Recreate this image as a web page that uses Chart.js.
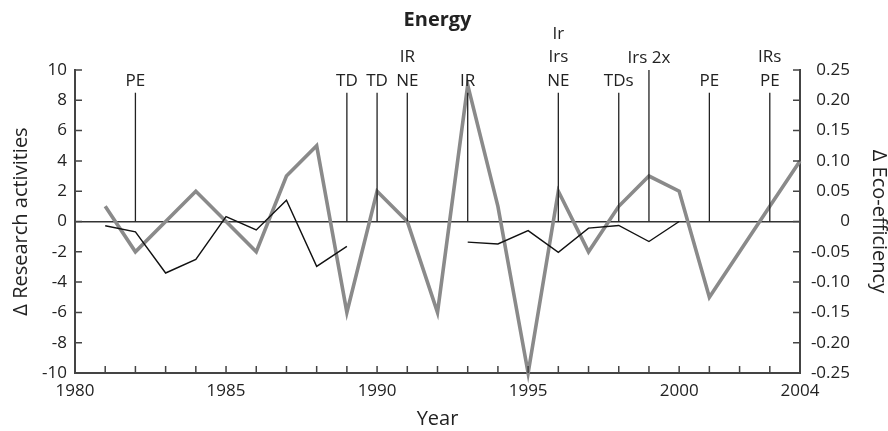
<!DOCTYPE html>
<html><head><meta charset="utf-8">
<script src="https://cdn.jsdelivr.net/npm/chart.js@4.4.1/dist/chart.umd.min.js"></script>
<style>html,body{margin:0;padding:0;background:#fff;}#wrap{width:888px;height:431px;}</style>
</head><body><div id="wrap"><canvas id="c" width="888" height="431"></canvas></div>
<script>
const years = [1981,1982,1983,1984,1985,1986,1987,1988,1989,1990,1991,1992,1993,1994,1995,1996,1997,1998,1999,2000,2001,2002,2003,2004];
const research = [1,-2,0,2,0,-2,3,5,-6,2,0,-6,9,1,-10,2,-2,1,3,2,-5,-2,1,4];
const ecoEfficiency = [-0.007,-0.017,-0.085,-0.0625,0.008,-0.014,0.035,-0.074,-0.041,null,null,null,-0.034,-0.037,-0.015,-0.051,-0.011,-0.0065,-0.033,0,null,null,null,null];
const eventYears = [1982,1989,1990,1991,1993,1996,1998,1999,2001,2003];
const eventLabels = [["PE"],["TD"],["TD"],["IR","NE"],["IR"],["Ir","Irs","NE"],["TDs"],["Irs 2x"],["PE"],["IRs","PE"]];
const eventTops = [8.5,8.5,8.5,8.5,8.5,8.5,8.5,10,8.5,8.5];
const xTicks = [1980,1981,1982,1983,1984,1985,1986,1987,1988,1989,1990,1991,1992,1993,1994,1995,1996,1997,1998,1999,2000,2001,2002,2003,2004];
const xTickLabels = [1980,1985,1990,1995,2000,2004];
const leftTicks = [-10,-8,-6,-4,-2,0,2,4,6,8,10];
const rightTicks = [-0.25,-0.2,-0.15,-0.1,-0.05,0,0.05,0.1,0.15,0.2,0.25];
const rightTickLabels = ["-0.25","-0.20","-0.15","-0.10","-0.05","0","0.05","0.10","0.15","0.20","0.25"];

const FONT = "'Open Sans', 'Noto Sans', sans-serif";
const TXT = '#222';
const AXIS = '#444';
const TICKFONT = 17;

const datasets = [];
eventYears.forEach((yr, i) => {
  datasets.push({
    data: [{x: yr, y: 0}, {x: yr, y: eventTops[i]}],
    borderColor: '#222', borderWidth: 1.3, pointRadius: 0, yAxisID: 'y', clip: false
  });
});
datasets.push({
  data: years.map((yr, i) => ({x: yr, y: ecoEfficiency[i]})),
  borderColor: '#111', borderWidth: 1.4, pointRadius: 0, yAxisID: 'y2', spanGaps: false, tension: 0
});
datasets.push({
  data: years.map((yr, i) => ({x: yr, y: research[i]})),
  borderColor: '#8a8a8a', borderWidth: 3.6, pointRadius: 0, yAxisID: 'y', tension: 0,
  borderJoinStyle: 'miter', clip: false
});

const deco = {
  id: 'deco',
  afterDraw(chart) {
    const ctx = chart.ctx, x = chart.scales.x, y = chart.scales.y, y2 = chart.scales.y2;
    const ca = chart.chartArea;
    ctx.save();
    ctx.strokeStyle = AXIS; ctx.lineWidth = 1.5;
    const TL = 7;
    ctx.beginPath();
    x.ticks.forEach(t => { const p = x.getPixelForValue(t.value); ctx.moveTo(p, ca.bottom); ctx.lineTo(p, ca.bottom - TL); });
    y.ticks.forEach(t => { const p = y.getPixelForValue(t.value); ctx.moveTo(ca.left, p); ctx.lineTo(ca.left + TL, p); });
    y2.ticks.forEach(t => { const p = y2.getPixelForValue(t.value); ctx.moveTo(ca.right, p); ctx.lineTo(ca.right - TL, p); });
    ctx.stroke();
    ctx.fillStyle = TXT;
    ctx.font = TICKFONT + "px " + FONT;
    ctx.textAlign = 'right'; ctx.textBaseline = 'middle';
    y2.ticks.forEach((t, i) => { ctx.fillText(rightTickLabels[i], ca.right + 50, y2.getPixelForValue(t.value)); });
    ctx.textAlign = 'center';
    ctx.font = "bold 20px " + FONT;
    ctx.fillText('Energy', (ca.left + ca.right) / 2, 20);
    ctx.font = "17px " + FONT;
    eventYears.forEach((yr, i) => {
      const px = x.getPixelForValue(yr);
      const top = y.getPixelForValue(eventTops[i]);
      const lines = eventLabels[i];
      lines.forEach((s, j) => {
        const cy = top - 12 - (lines.length - 1 - j) * 23.5;
        ctx.fillText(s, px, cy);
      });
    });
    ctx.restore();
  }
};

new Chart(document.getElementById('c'), {
  type: 'line',
  data: { datasets },
  options: {
    responsive: false, devicePixelRatio: 1, animation: false,
    layout: { padding: { top: 70, left: 0, right: 0, bottom: 0 } },
    plugins: { legend: { display: false }, tooltip: { enabled: false }, title: { display: false } },
    scales: {
      x: {
        type: 'linear', min: 1980, max: 2004,
        afterBuildTicks: s => { s.ticks = xTicks.map(v => ({value: v})); },
        afterFit: s => { s.height = 58; },
        ticks: { autoSkip: false, maxRotation: 0, padding: 8, color: TXT, font: { family: FONT, size: TICKFONT },
          callback: v => xTickLabels.includes(v) ? String(v) : '' },
        grid: { display: false, drawTicks: false },
        border: { display: true, color: AXIS, width: 2 },
        title: { display: true, text: 'Year', color: TXT, font: { family: FONT, size: 20 }, padding: { top: 0, bottom: 0 } }
      },
      y: {
        position: 'left', min: -10, max: 10,
        afterBuildTicks: s => { s.ticks = leftTicks.map(v => ({value: v})); },
        afterFit: s => { s.width = 75; },
        ticks: { padding: 8, color: TXT, font: { family: FONT, size: TICKFONT }, callback: v => String(v) },
        grid: { drawTicks: false, lineWidth: 1.5, color: c => (c.tick && c.tick.value === 0) ? '#333' : 'rgba(0,0,0,0)' },
        border: { display: true, color: AXIS, width: 2 },
        title: { display: true, text: 'Δ Research activities', color: TXT, font: { family: FONT, size: 20 }, padding: { top: 9, bottom: 0 } }
      },
      y2: {
        position: 'right', min: -0.25, max: 0.25,
        afterBuildTicks: s => { s.ticks = rightTicks.map(v => ({value: v})); },
        afterFit: s => { s.width = 88; },
        ticks: { padding: 7, color: TXT, font: { family: FONT, size: TICKFONT }, callback: () => '' },
        grid: { drawOnChartArea: false, drawTicks: false },
        border: { display: true, color: AXIS, width: 2 },
        title: { display: true, text: 'Δ Eco-efficiency', color: TXT, font: { family: FONT, size: 20 }, padding: { top: -3, bottom: 0 } }
      }
    }
  },
  plugins: [deco]
});
</script></body></html>
